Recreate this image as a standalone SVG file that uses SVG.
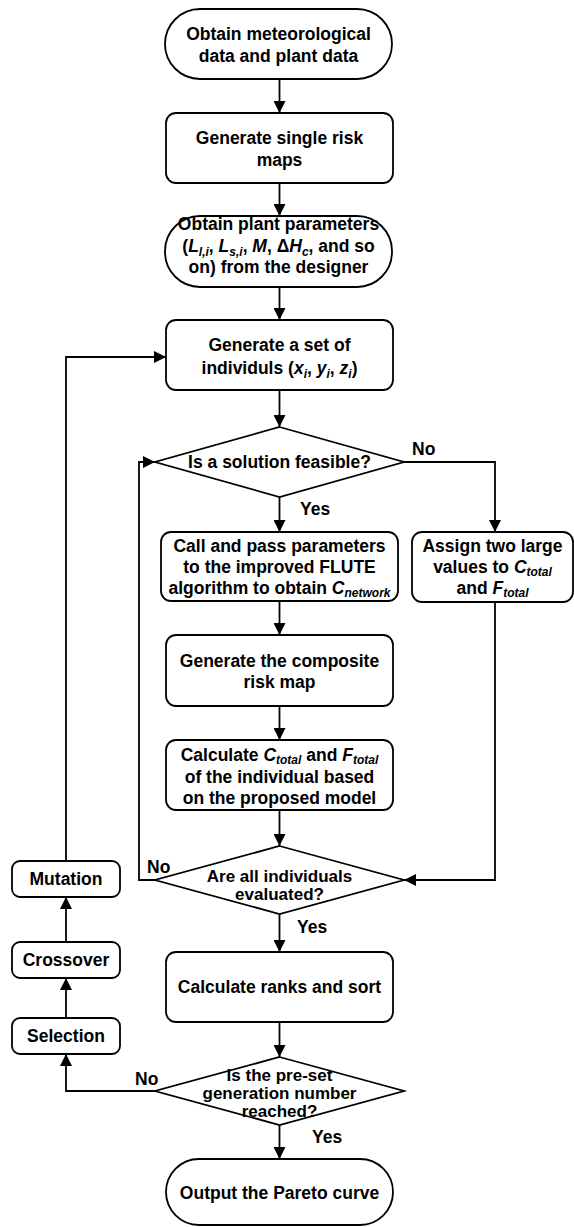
<svg xmlns="http://www.w3.org/2000/svg" width="574" height="1227" viewBox="0 0 574 1227">
<style>
.n{fill:#fff;stroke:#000;stroke-width:1.8}
.c{fill:none;stroke:#000;stroke-width:1.8}
text{font-family:"Liberation Sans",Arial,sans-serif;font-weight:bold;font-size:17.5px;fill:#000}
.m{text-anchor:middle}
.i{font-style:italic}
.s{font-style:italic;font-size:12px}
.dt{font-size:17px}
</style>
<defs>
<marker id="ah" markerUnits="userSpaceOnUse" markerWidth="12" markerHeight="12" refX="12" refY="6" orient="auto">
<path d="M0,0 L12,6 L0,12 z" fill="#000"/>
</marker>
</defs>
<rect width="574" height="1227" fill="#fff"/>
<g id="connectors">
<path class="c" d="M279.5,79 V113" marker-end="url(#ah)"/>
<path class="c" d="M279.5,183 V216" marker-end="url(#ah)"/>
<path class="c" d="M279.5,287 V320" marker-end="url(#ah)"/>
<path class="c" d="M279.5,390 V427" marker-end="url(#ah)"/>
<path class="c" d="M279.5,497 V532" marker-end="url(#ah)"/>
<path class="c" d="M404,462 H495 V532" marker-end="url(#ah)"/>
<path class="c" d="M279.5,601 V635" marker-end="url(#ah)"/>
<path class="c" d="M279.5,706 V740" marker-end="url(#ah)"/>
<path class="c" d="M279.5,810 V846" marker-end="url(#ah)"/>
<path class="c" d="M495,602 V880 H404" marker-end="url(#ah)"/>
<path class="c" d="M155,880 H139 V462 H155" marker-end="url(#ah)"/>
<path class="c" d="M279.5,914 V952" marker-end="url(#ah)"/>
<path class="c" d="M279.5,1022 V1057" marker-end="url(#ah)"/>
<path class="c" d="M155,1091 H66 V1054" marker-end="url(#ah)"/>
<path class="c" d="M66,1018 V978" marker-end="url(#ah)"/>
<path class="c" d="M66,942 V897" marker-end="url(#ah)"/>
<path class="c" d="M66,861 V357 H166" marker-end="url(#ah)"/>
<path class="c" d="M279.5,1125 V1159" marker-end="url(#ah)"/>
<text x="412" y="455">No</text>
<text x="300" y="515">Yes</text>
<text x="147" y="873">No</text>
<text x="297" y="933">Yes</text>
<text x="135" y="1085">No</text>
<text x="312" y="1143">Yes</text>
</g>
<g id="n1">
<rect class="n" x="165" y="9" width="227" height="70" rx="35" ry="35"/>
<text class="m" x="278.5" y="40">Obtain meteorological</text>
<text class="m" x="278.5" y="62">data and plant data</text>
</g>
<g id="n2">
<rect class="n" x="166" y="113" width="227" height="70" rx="10"/>
<text class="m" x="279.5" y="144">Generate single risk</text>
<text class="m" x="279.5" y="166">maps</text>
</g>
<g id="n3">
<rect class="n" x="165" y="216" width="227" height="71" rx="35" ry="35"/>
<text class="m" x="278.5" y="230">Obtain plant parameters</text>
<text class="m" x="278.5" y="252">(<tspan class="i">L</tspan><tspan class="s" dy="4">l,i</tspan><tspan dy="-4">, </tspan><tspan class="i">L</tspan><tspan class="s" dy="4">s,i</tspan><tspan dy="-4">, </tspan><tspan class="i">M</tspan>, Δ<tspan class="i">H</tspan><tspan class="s" dy="4">c</tspan><tspan dy="-4">, and so</tspan></text>
<text class="m" x="278.5" y="273">on) from the designer</text>
</g>
<g id="n4">
<rect class="n" x="166" y="320" width="227" height="70" rx="10"/>
<text class="m" x="279.5" y="351">Generate a set of</text>
<text class="m" x="279.5" y="374">individuls (<tspan class="i">x</tspan><tspan class="s" dy="4">i</tspan><tspan dy="-4">, </tspan><tspan class="i">y</tspan><tspan class="s" dy="4">i</tspan><tspan dy="-4">, </tspan><tspan class="i">z</tspan><tspan class="s" dy="4">i</tspan><tspan dy="-4">)</tspan></text>
</g>
<g id="d1">
<polygon class="n" points="279.5,427 404,462 279.5,497 155,462"/>
<text class="m" x="279.5" y="468">Is a solution feasible?</text>
</g>
<g id="n5">
<rect class="n" x="161" y="532" width="237" height="69" rx="10"/>
<text class="m" x="279.5" y="552">Call and pass parameters</text>
<text class="m" x="279.5" y="573">to the improved FLUTE</text>
<text class="m" x="279.5" y="594">algorithm to obtain <tspan class="i">C</tspan><tspan class="s" dy="3">network</tspan></text>
</g>
<g id="n6">
<rect class="n" x="412" y="532" width="161" height="70" rx="10"/>
<text class="m" x="492.5" y="552">Assign two large</text>
<text class="m" x="492.5" y="573">values to <tspan class="i">C</tspan><tspan class="s" dy="3">total</tspan></text>
<text class="m" x="492.5" y="594">and <tspan class="i">F</tspan><tspan class="s" dy="3">total</tspan></text>
</g>
<g id="n7">
<rect class="n" x="166" y="635" width="227" height="71" rx="10"/>
<text class="m" x="279.5" y="667">Generate the composite</text>
<text class="m" x="279.5" y="688">risk map</text>
</g>
<g id="n8">
<rect class="n" x="166" y="740" width="227" height="70" rx="10"/>
<text class="m" x="279.5" y="761">Calculate <tspan class="i">C</tspan><tspan class="s" dy="3">total</tspan><tspan dy="-3"> and </tspan><tspan class="i">F</tspan><tspan class="s" dy="3">total</tspan></text>
<text class="m" x="279.5" y="783">of the individual based</text>
<text class="m" x="279.5" y="804">on the proposed model</text>
</g>
<g id="d2">
<polygon class="n" points="279.5,846 404,880 279.5,914 155,880"/>
<text class="m dt" x="279.5" y="882">Are all individuals</text>
<text class="m dt" x="279.5" y="900">evaluated?</text>
</g>
<g id="n9">
<rect class="n" x="166" y="952" width="227" height="70" rx="10"/>
<text class="m" x="279.5" y="993">Calculate ranks and sort</text>
</g>
<g id="d3">
<polygon class="n" points="279.5,1057 404,1091 279.5,1125 155,1091"/>
<text class="m dt" x="279.5" y="1081">Is the pre-set</text>
<text class="m dt" x="279.5" y="1099">generation number</text>
<text class="m dt" x="279.5" y="1117">reached?</text>
</g>
<g id="n10">
<rect class="n" x="166" y="1159" width="227" height="66" rx="33" ry="33"/>
<text class="m" x="279.5" y="1199">Output the Pareto curve</text>
</g>
<g id="mutation">
<rect class="n" x="12" y="861" width="108" height="36" rx="8"/>
<text class="m" x="66" y="885">Mutation</text>
</g>
<g id="crossover">
<rect class="n" x="12" y="942" width="108" height="36" rx="8"/>
<text class="m" x="66" y="966">Crossover</text>
</g>
<g id="selection">
<rect class="n" x="12" y="1018" width="108" height="36" rx="8"/>
<text class="m" x="66" y="1042">Selection</text>
</g>
</svg>
